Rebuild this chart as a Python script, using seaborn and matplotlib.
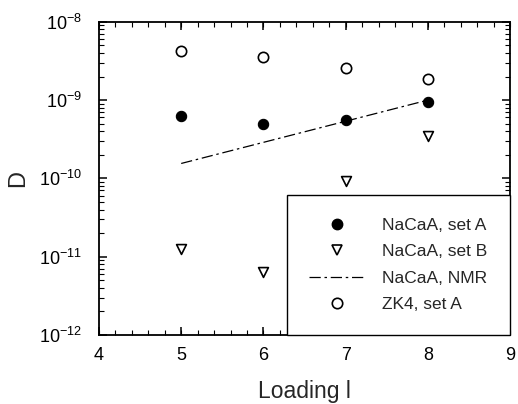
import seaborn as sns
import matplotlib.pyplot as plt
import pandas as pd
from matplotlib.lines import Line2D
from matplotlib.ticker import LogLocator, MultipleLocator

loading = [5, 6, 7, 8]
nacaa_a = [6.3e-10, 5.0e-10, 5.6e-10, 9.5e-10]
nacaa_b = [1.24e-11, 6.4e-12, 9.3e-11, 3.5e-10]
zk4_a = [4.3e-9, 3.6e-9, 2.6e-9, 1.87e-9]
nmr_x = [5, 8]
nmr_d = [1.55e-10, 1.0e-9]

sns.set_style("ticks")
plt.rcParams.update({
    'font.family': ['Liberation Sans', 'DejaVu Sans'],
    'mathtext.fontset': 'custom',
    'mathtext.rm': 'Liberation Sans',
    'axes.unicode_minus': False,
    'axes.edgecolor': 'black',
    'axes.linewidth': 1.3,
    'xtick.color': 'black', 'ytick.color': 'black',
    'xtick.direction': 'in', 'ytick.direction': 'in',
    'xtick.top': True, 'ytick.right': True,
    'xtick.major.pad': 9, 'ytick.major.pad': 12,
    'xtick.labelsize': 13, 'ytick.labelsize': 13,
})

pos = [0.191, 0.171, 0.794, 0.775]
fig = plt.figure(figsize=(5.18, 4.04), dpi=100)
ax = fig.add_axes(pos)

df_a = pd.DataFrame({"x": loading, "D": nacaa_a})
df_b = pd.DataFrame({"x": loading, "D": nacaa_b})
df_z = pd.DataFrame({"x": loading, "D": zk4_a})
df_n = pd.DataFrame({"x": nmr_x, "D": nmr_d})

dashdot = (0, (9, 3, 2, 3))
sns.lineplot(x="x", y="D", data=df_n, ax=ax, color="black", lw=0.9,
             linestyle=dashdot)
sns.scatterplot(x="x", y="D", data=df_a, ax=ax, marker="o", s=55,
                color="black", edgecolor="black", linewidth=0.8, zorder=3)
sns.scatterplot(x="x", y="D", data=df_b, ax=ax, marker="v", s=50,
                facecolor="white", edgecolor="black", linewidth=1.2, zorder=3)
sns.scatterplot(x="x", y="D", data=df_z, ax=ax, marker="o", s=55,
                facecolor="white", edgecolor="black", linewidth=1.2, zorder=3)

ax.set_yscale("log")
ax.set_xlim(4, 9)
ax.set_ylim(1e-12, 1e-8)
ax.xaxis.set_major_locator(MultipleLocator(1))
ax.yaxis.set_major_locator(LogLocator(base=10, numticks=10))
ax.minorticks_off()
ax.tick_params(which="major", length=6, width=1.1)

ax.set_xlabel("Loading l", fontsize=16.5)
ax.set_ylabel("D", fontsize=17)
ax.xaxis.set_label_coords(0.5, -0.182)
ax.yaxis.set_label_coords(-0.197, 0.5)
ax.xaxis.label.set_va("center")
ax.yaxis.label.set_va("center")

# small ticks: overlay axes with the same scales, no frame, no labels
axm = fig.add_axes(pos)
axm.set_yscale("log")
axm.set_xlim(4, 9)
axm.set_ylim(1e-12, 1e-8)
axm.patch.set_visible(False)
for s in axm.spines.values():
    s.set_visible(False)
axm.xaxis.set_major_locator(MultipleLocator(0.2))
axm.yaxis.set_major_locator(LogLocator(base=10, subs=range(2, 10), numticks=100))
axm.minorticks_off()
axm.tick_params(which="major", length=3.5, width=0.8, direction="in",
                top=True, right=True, bottom=True, left=True,
                labelbottom=False, labelleft=False,
                labeltop=False, labelright=False)

handles = [
    Line2D([], [], marker="o", color="black", ls="none", markersize=7.5),
    Line2D([], [], marker="v", markerfacecolor="white", markeredgecolor="black",
           markeredgewidth=1.2, ls="none", markersize=7.5),
    Line2D([], [], color="black", lw=0.9, linestyle=dashdot),
    Line2D([], [], marker="o", markerfacecolor="white", markeredgecolor="black",
           markeredgewidth=1.2, ls="none", markersize=7.5),
]
labels = ["NaCaA, set A", "NaCaA, set B", "NaCaA, NMR", "ZK4, set A"]
leg = axm.legend(handles, labels, loc="lower right", bbox_to_anchor=(1, 0),
                 borderaxespad=0, fancybox=False, edgecolor="black",
                 framealpha=1, fontsize=12.5, handlelength=3.2,
                 borderpad=1.3, labelspacing=0.65, handletextpad=1.0)
leg.get_frame().set_linewidth(1.0)

fig.savefig("out.png", dpi=100)
